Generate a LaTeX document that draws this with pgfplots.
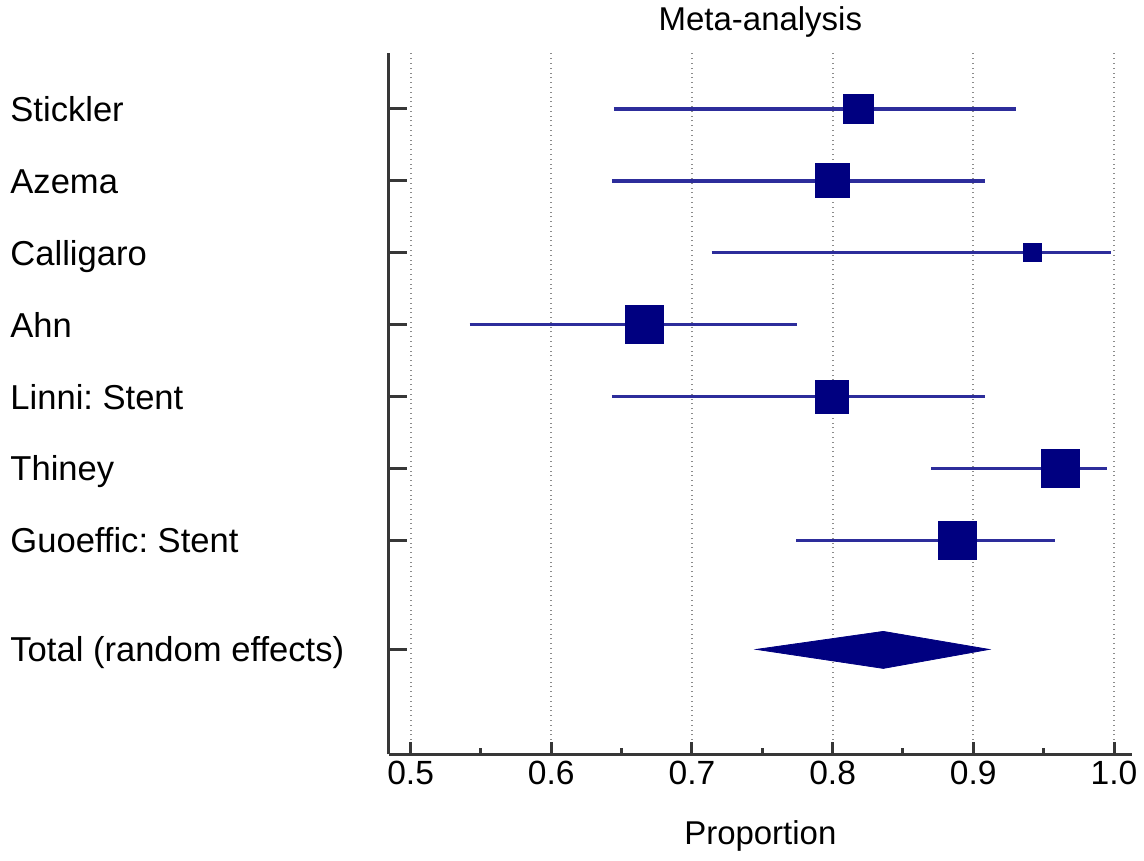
\documentclass[border=0pt]{standalone}
\usepackage{pgfplots}
\usepackage{pgfplotstable}
\pgfplotsset{compat=1.18}
\usepackage{fontspec}
\setmainfont{Liberation Sans}
\frenchspacing
\definecolor{navysq}{RGB}{0,0,128}
\definecolor{ciblue}{RGB}{45,45,155}
\definecolor{axgray}{RGB}{55,55,55}
\pgfplotstableread{
y   est    lo     hi     s
752 0.818  0.6445 0.930  7.5
680 0.800  0.643  0.908  8.5
608 0.942  0.714  0.9976 4.5
536 0.666  0.542  0.7746 9.5
464 0.7994 0.643  0.908  8.25
392 0.9616 0.870  0.9948 9.5
320 0.889  0.774  0.958  9.5
}\studies
\begin{document}
\begin{tikzpicture}
\begin{axis}[
  scale only axis, width=372pt, height=351pt,
  xmin=0.4844, xmax=1.0128, ymin=106, ymax=808,
  clip=false,
  axis lines=left,
  axis line style={-, line width=1.5pt, axgray},
  xtick={0.5,0.6,0.7,0.8,0.9,1.0},
  minor xtick={0.55,0.65,0.75,0.85,0.95},
  xticklabel style={/pgf/number format/.cd, fixed, fixed zerofill, precision=1, assume math mode=true},
  ytick={752,680,608,536,464,392,320,211},
  yticklabels={Stickler,Azema,Calligaro,Ahn,{Linni:\ Stent},Thiney,{Guoeffic:\ Stent},{Total (random effects)}},
  tick align=inside,
  major tick length=6pt, minor tick length=3pt,
  every tick/.style={axgray, line width=1.5pt},
  ytick style={/pgfplots/major tick length=9pt},
  xmajorgrids=true, ymajorgrids=false,
  major grid style={dotted, gray!90, line width=0.9pt},
  every tick label/.append style={font=\fontsize{16.8}{20}\selectfont},
  yticklabel style={font=\fontsize{17.3}{20}\selectfont, anchor=base west, inner sep=0pt, xshift=-189.5pt, yshift=-6.2pt},
  label style={font=\fontsize{16.5}{20}\selectfont},
  title style={font=\fontsize{16.5}{20}\selectfont, at={(axis description cs:0.5,1)}, anchor=base, yshift=5pt, inner sep=0pt},
  title={Meta-analysis},
  xlabel={Proportion},
  xlabel style={at={(axis description cs:0.5,0)}, anchor=base, yshift=-45pt, inner sep=0pt},
]
\path (axis cs:0.2081,0) rectangle (axis cs:1.0206,861);
\addplot[ciblue, line width=1.7pt, mark=none] coordinates {(0.6445,752) (0.930,752)};
\addplot[ciblue, line width=1.7pt, mark=none] coordinates {(0.643,680) (0.908,680)};
\addplot[ciblue, line width=1.7pt, mark=none] coordinates {(0.714,608) (0.9976,608)};
\addplot[ciblue, line width=1.7pt, mark=none] coordinates {(0.542,536) (0.7746,536)};
\addplot[ciblue, line width=1.7pt, mark=none] coordinates {(0.643,464) (0.908,464)};
\addplot[ciblue, line width=1.7pt, mark=none] coordinates {(0.870,392) (0.9948,392)};
\addplot[ciblue, line width=1.7pt, mark=none] coordinates {(0.774,320) (0.958,320)};
\addplot[scatter, only marks, mark=square*,
  scatter/use mapped color={draw=navysq, fill=navysq},
  visualization depends on={\thisrow{s}\as\ms},
  scatter/@pre marker code/.append style={/tikz/mark size=\ms pt}]
  table[x=est, y=y] {\studies};
\addplot[fill=navysq, draw=navysq, line width=0.4pt, mark=none] coordinates {(0.7458,211) (0.836,229) (0.9112,211) (0.836,192)} -- cycle;
\end{axis}
\end{tikzpicture}
\end{document}
